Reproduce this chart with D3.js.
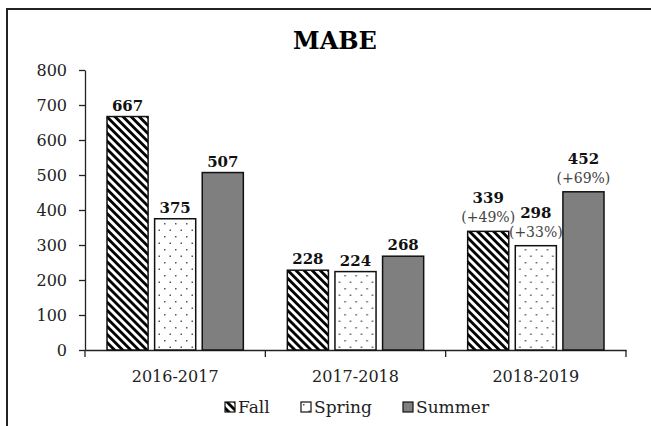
<!DOCTYPE html>
<html>
<head>
<meta charset="utf-8">
<script src="https://cdn.jsdelivr.net/npm/d3@7"></script>
<style>
  body { margin: 0; background: #fff; }
  svg { display: block; }
</style>
</head>
<body>
<svg width="651" height="426"></svg>
<script>
// Chart data
const categories = ["2016-2017", "2017-2018", "2018-2019"];
const seriesNames = ["Fall", "Spring", "Summer"];
const fallValues = [667, 228, 339];
const springValues = [375, 224, 298];
const summerValues = [507, 268, 452];
const changeLabels = [["", "", ""], ["", "", ""], ["(+49%)", "(+33%)", "(+69%)"]];
const yTicks = [0, 100, 200, 300, 400, 500, 600, 700, 800];

const svg = d3.select("svg");
const font = "'DejaVu Serif', serif";
margin = { top: 70, right: 25, bottom: 76, left: 85 };
const plotRight = 626;
const plotBottom = 350;

// Outer frame (runs off the right/bottom edge like the source image)
svg.append("rect")
   .attr("x", 7).attr("y", 9)
   .attr("width", 700).attr("height", 500)
   .attr("fill", "none")
   .attr("stroke", "#222")
   .attr("stroke-width", 2);

// Patterns
const defs = svg.append("defs");
const hatch = defs.append("pattern")
   .attr("id", "hatch")
   .attr("patternUnits", "userSpaceOnUse")
   .attr("width", 5.7).attr("height", 5.7)
   .attr("patternTransform", "rotate(-45)");
hatch.append("rect").attr("width", 5.7).attr("height", 5.7).attr("fill", "#fff");
hatch.append("rect").attr("width", 2.8).attr("height", 5.7).attr("fill", "#000");

const dots = defs.append("pattern")
   .attr("id", "dots")
   .attr("patternUnits", "userSpaceOnUse")
   .attr("width", 11).attr("height", 13);
dots.append("rect").attr("width", 11).attr("height", 13).attr("fill", "#fff");
dots.append("rect").attr("x", 2).attr("y", 2).attr("width", 1.5).attr("height", 1.5).attr("fill", "#555");
dots.append("rect").attr("x", 7.5).attr("y", 8.5).attr("width", 1.5).attr("height", 1.5).attr("fill", "#555");

const fills = { Fall: "url(#hatch)", Spring: "url(#dots)", Summer: "#7f7f7f" };

// Table built from the arrays
const table = categories.map((c, i) => ({
    category: c,
    values: [
        { name: "Fall", value: fallValues[i], change: changeLabels[i][0] },
        { name: "Spring", value: springValues[i], change: changeLabels[i][1] },
        { name: "Summer", value: summerValues[i], change: changeLabels[i][2] }
    ]
}));

// Scales
const x0 = d3.scaleBand()
             .domain(categories)
             .range([margin.left, plotRight])
             .padding(0);
const x1 = d3.scaleBand()
             .domain(seriesNames)
             .range([22, x0.bandwidth() - 22])
             .paddingInner(0.137);
const y = d3.scaleLinear()
            .domain([0, 800])
            .range([plotBottom, margin.top]);

// Title
svg.append("text")
   .attr("x", 335).attr("y", 49)
   .attr("text-anchor", "middle")
   .style("font-family", font)
   .style("font-weight", "bold")
   .style("font-size", "24px")
   .text("MABE");

// Y axis
const yAxis = svg.append("g")
   .attr("transform", `translate(${margin.left},0)`)
   .call(d3.axisLeft(y).tickValues(yTicks).tickSize(6).tickPadding(12).tickSizeOuter(0));
yAxis.selectAll("text")
     .style("font-family", font)
     .style("font-size", "16px")
     .style("fill", "#222");
yAxis.selectAll("path, line").style("stroke", "#222").style("stroke-width", 1.3);

// X axis (labels centred, ticks on category boundaries)
const xAxis = svg.append("g")
   .attr("transform", `translate(0,${plotBottom})`)
   .call(d3.axisBottom(x0).tickSize(0).tickPadding(21).tickSizeOuter(0));
xAxis.selectAll("text")
     .style("font-family", font)
     .style("font-size", "16px")
     .style("fill", "#222");
xAxis.select("path").style("stroke", "#222").style("stroke-width", 1.3);
const bounds = categories.map(c => x0(c)).concat([x0.range()[1]]);
xAxis.selectAll(".bound")
     .data(bounds)
     .enter()
     .append("line")
     .attr("class", "bound")
     .attr("x1", d => d).attr("x2", d => d)
     .attr("y1", 0).attr("y2", 7)
     .style("stroke", "#222")
     .style("stroke-width", 1.3);

// Bars
const groups = svg.selectAll(".group")
   .data(table)
   .enter()
   .append("g")
   .attr("class", "group")
   .attr("transform", d => `translate(${x0(d.category)},0)`);

groups.selectAll("rect")
      .data(d => d.values)
      .enter()
      .append("rect")
      .attr("x", d => x1(d.name))
      .attr("y", d => y(d.value))
      .attr("width", x1.bandwidth())
      .attr("height", d => y(0) - y(d.value))
      .attr("fill", d => fills[d.name])
      .attr("stroke", "#111")
      .attr("stroke-width", 1.5);

// Value labels
groups.selectAll(".val")
      .data(d => d.values)
      .enter()
      .append("text")
      .attr("class", "val")
      .attr("x", d => x1(d.name) + x1.bandwidth() / 2)
      .attr("y", d => y(d.value) - (d.change ? 28 : 6))
      .attr("text-anchor", "middle")
      .style("font-family", font)
      .style("font-weight", "bold")
      .style("font-size", "15px")
      .style("fill", "#111")
      .text(d => d.value);

// Percentage change labels
groups.selectAll(".chg")
      .data(d => d.values.filter(v => v.change))
      .enter()
      .append("text")
      .attr("class", "chg")
      .attr("x", d => x1(d.name) + x1.bandwidth() / 2)
      .attr("y", d => y(d.value) - 9)
      .attr("text-anchor", "middle")
      .style("font-family", font)
      .style("font-size", "14px")
      .style("fill", "#444")
      .text(d => d.change);

// Legend
const legendX = [225, 301, 403];
const legend = svg.selectAll(".legend-item")
   .data(seriesNames)
   .enter()
   .append("g")
   .attr("class", "legend-item")
   .attr("transform", (d, i) => `translate(${legendX[i]}, 402)`);

legend.append("rect")
      .attr("width", 10).attr("height", 10)
      .attr("fill", d => fills[d])
      .attr("stroke", "#111")
      .attr("stroke-width", 1.2);

legend.append("text")
      .attr("x", 13)
      .attr("y", 11)
      .style("font-family", font)
      .style("font-size", "17px")
      .style("fill", "#222")
      .text(d => d);
</script>
</body>
</html>
